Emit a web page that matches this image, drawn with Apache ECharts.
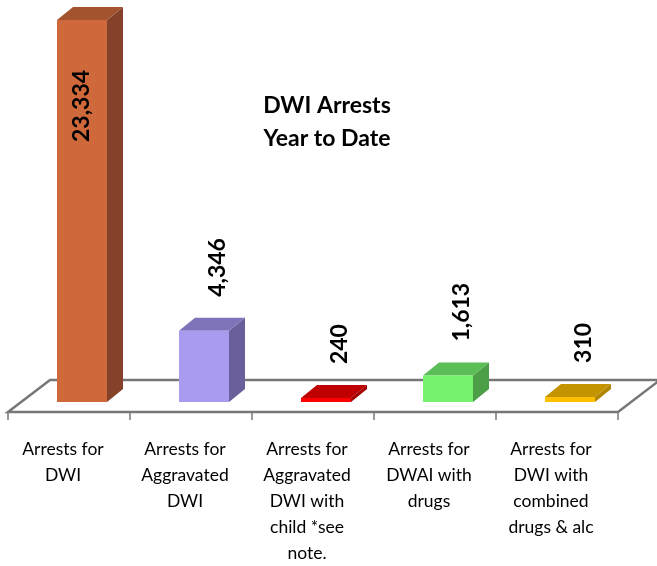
<!DOCTYPE html>
<html>
<head>
<meta charset="utf-8">
<script src="https://cdn.jsdelivr.net/npm/echarts@6/dist/echarts.min.js"></script>
<style>
  html, body { margin: 0; padding: 0; background: #fff; }
  #chart { width: 657px; height: 566px; }
</style>
</head>
<body>
<div id="chart"></div>
<script>
  // data
  var categories = [
    'Arrests for\nDWI',
    'Arrests for\nAggravated\nDWI',
    'Arrests for\nAggravated\nDWI with\nchild *see\nnote.',
    'Arrests for\nDWAI with\ndrugs',
    'Arrests for\nDWI with\ncombined\ndrugs & alc'
  ];
  var arrests = [23334, 4346, 240, 1613, 310];

  // face colours (front / side / top)
  var frontColors = ['#cf683b', '#a99bef', '#ff0000', '#77f26e', '#ffc000'];
  var sideColors = ['#86412a', '#6a5e9b', '#a00000', '#4c9e47', '#b08600'];
  var topColors = ['#a3542f', '#7e73b9', '#c00000', '#5bbd55', '#c39300'];

  var DX = 16, DY = -13; // bar depth
  var FLOOR_DX = 42, FLOOR_DY = -32;
  var FONT = 'Lato, "Open Sans", sans-serif';

  var chart = echarts.init(document.getElementById('chart'));

  function renderFloor(params, api) {
    var base = api.coord([0, 0]);
    var band = api.size([1, 0])[0];
    var n = categories.length;
    var fy = base[1] + 10;
    var fx0 = base[0] - band / 2 + 6;
    var fx1 = fx0 + band * n;
    var children = [{
      type: 'polygon',
      shape: { points: [[fx0, fy], [fx1, fy], [fx1 + FLOOR_DX, fy + FLOOR_DY], [fx0 + FLOOR_DX, fy + FLOOR_DY]] },
      style: { fill: '#fff', stroke: '#777', lineWidth: 2.5 }
    }];
    for (var i = 0; i <= n; i++) {
      var tx = fx0 + band * i;
      children.push({
        type: 'line',
        shape: { x1: tx, y1: fy, x2: tx, y2: fy + 8 },
        style: { stroke: '#777', lineWidth: 1.5 }
      });
    }
    return { type: 'group', children: children };
  }

  function renderBar(params, api) {
    var i = api.value(0);
    var v = api.value(1);
    var base = api.coord([i, 0]);
    var top = api.coord([i, v]);
    var band = api.size([1, 0])[0];
    var w = band * 0.41;
    var cx = base[0] + 19;
    var x0 = cx - w / 2, x1 = cx + w / 2;
    var y0 = base[1], y1 = top[1];
    var label = v.toLocaleString('en-US');
    var children = [
      { type: 'polygon', shape: { points: [[x1, y0], [x1, y1], [x1 + DX, y1 + DY], [x1 + DX, y0 + DY]] }, style: { fill: sideColors[i] } },
      { type: 'polygon', shape: { points: [[x0, y1], [x1, y1], [x1 + DX, y1 + DY], [x0 + DX, y1 + DY]] }, style: { fill: topColors[i] } },
      { type: 'rect', shape: { x: x0, y: y1, width: w, height: y0 - y1 }, style: { fill: frontColors[i] } }
    ];
    // label doesn't fit above the tallest bar -> put it inside
    var inside = (y1 + DY - 24 - 80) < 0;
    children.push({
      type: 'text',
      x: inside ? cx : cx + 14,
      y: inside ? y1 + 50 : y1 + DY - 21,
      rotation: Math.PI / 2,
      style: {
        text: label,
        fill: '#000',
        font: 'bold 23px ' + FONT,
        align: inside ? 'right' : 'left',
        verticalAlign: 'middle'
      }
    });
    return { type: 'group', children: children };
  }

  var barData = arrests.map(function (v, i) { return [i, v]; });

  chart.setOption({
    animation: false,
    backgroundColor: '#fff',
    title: {
      text: 'DWI Arrests\nYear to Date',
      left: 322,
      top: 84,
      textAlign: 'center',
      textStyle: {
        fontFamily: FONT,
        fontWeight: 'bold',
        fontSize: 23,
        lineHeight: 33,
        color: '#000'
      }
    },
    grid: { left: 2, right: 45, top: 9, bottom: 160, containLabel: false },
    xAxis: {
      type: 'category',
      data: categories,
      axisLine: { show: false },
      axisTick: { show: false },
      axisLabel: {
        interval: 0,
        margin: 34,
        fontFamily: FONT,
        fontSize: 17.5,
        lineHeight: 26,
        color: '#000'
      }
    },
    yAxis: {
      type: 'value',
      min: 0,
      max: 24000,
      show: false
    },
    series: [{
      type: 'custom',
      name: 'floor',
      z: 1,
      silent: true,
      renderItem: renderFloor,
      data: [[0, 0]]
    }, {
      type: 'custom',
      name: 'Arrests',
      z: 2,
      renderItem: renderBar,
      encode: { x: 0, y: 1 },
      data: barData
    }]
  });
</script>
</body>
</html>
